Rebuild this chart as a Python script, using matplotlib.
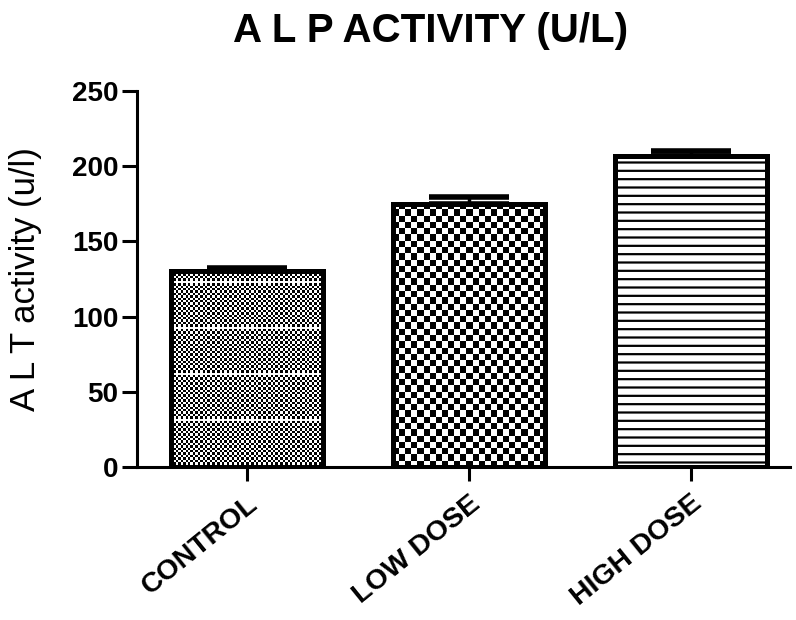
import numpy as np
import matplotlib
matplotlib.use("Agg")
import matplotlib.pyplot as plt

groups = ["CONTROL", "LOW DOSE", "HIGH DOSE"]
means = [130, 175, 207]
errors = [2.5, 4.5, 3]
yticks = [0, 50, 100, 150, 200, 250]

plt.rcParams['font.family'] = ['Liberation Sans', 'DejaVu Sans']
plt.rcParams['hatch.linewidth'] = 1.6

fig = plt.figure(figsize=(7.96, 6.2), dpi=100)
ax = fig.add_axes([0.172, 0.247, 0.82, 0.606])

x = np.arange(len(groups))
bars = ax.bar(x, means, width=0.685, color='none', edgecolor='black',
              linewidth=3.6, zorder=3)
bars[2].set_hatch('--')

ax.errorbar(x, means, yerr=[[0] * len(errors), errors], fmt='none',
            ecolor='black', elinewidth=2.5, capsize=29, capthick=4, zorder=4)

ax.set_xlim(-0.495, 2.446)
ax.set_ylim(0, 250)


def checker_fill(bar, cell_px, stripe_every=None):
    # fill a bar with a black/white checkerboard clipped to the bar
    x0, w, h = bar.get_x(), bar.get_width(), bar.get_height()
    p0 = ax.transData.transform((x0, 0))
    p1 = ax.transData.transform((x0 + w, h))
    nx = max(1, int(round((p1[0] - p0[0]) / cell_px)))
    ny = max(1, int(round((p1[1] - p0[1]) / cell_px)))
    ii, jj = np.indices((ny, nx))
    img = ((ii + jj) % 2).astype(float)
    if stripe_every:
        for r in range(stripe_every, ny, stripe_every):
            img[r, :] = 1.0
    im = ax.imshow(img, cmap='gray', origin='lower', interpolation='nearest',
                   extent=(x0, x0 + w, 0, h), aspect='auto', zorder=2)
    im.set_clip_path(bar)


checker_fill(bars[0], 2.4, stripe_every=19)
checker_fill(bars[1], 6.2)
ax.set_xlim(-0.495, 2.446)
ax.set_ylim(0, 250)

ax.spines['top'].set_visible(False)
ax.spines['right'].set_visible(False)
ax.spines['left'].set_linewidth(2.2)
ax.spines['bottom'].set_linewidth(2.2)

ax.set_yticks(yticks)
ax.set_yticklabels([str(t) for t in yticks], fontsize=20, fontweight='bold')
ax.tick_params(axis='y', length=10.5, width=2.2, pad=3)
ax.tick_params(axis='x', length=10, width=2.2, pad=7)
ax.set_xticks(x)
ax.set_xticklabels(groups, rotation=39, ha='right', va='top',
                   rotation_mode='anchor', fontsize=20.5, fontweight='bold')

ax.set_ylabel("A L T activity (u/l)", fontsize=25)
ax.yaxis.set_label_coords(-0.145, 0.5)

fig.text(0.541, 0.95, "A L P ACTIVITY (U/L)", ha='center', va='center',
         fontsize=29, fontweight='bold')

fig.savefig("out.png", dpi=100)
